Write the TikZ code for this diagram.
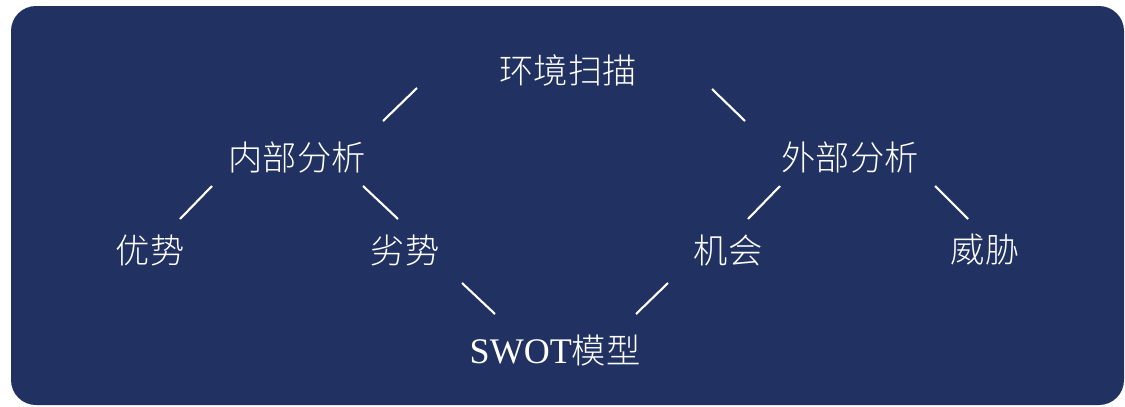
\documentclass[tikz,border=0pt]{standalone}
\usepackage{fontspec}
\setmainfont{Liberation Serif}
\newfontfamily\cjk{Noto Sans CJK SC Light}
\definecolor{navybg}{RGB}{33,50,98}
\tikzset{
  lbl/.style={text=white,font=\fontsize{19.5}{24}\selectfont\cjk,inner sep=0pt},
  link/.style={draw=white,line width=1.2pt}
}
\begin{document}
\begin{tikzpicture}[x=0.02cm,y=-0.02cm]
\useasboundingbox (0,0) rectangle (1125,406);
\fill[navybg,rounded corners=0.5cm] (11,6) rectangle (1124,405);
\node[lbl] (env) at (568,70) {环境扫描};
\node[lbl] (inner) at (297,157) {内部分析};
\node[lbl] (outer) at (850,157) {外部分析};
\node[lbl] (str) at (150,250) {优势};
\node[lbl] (weak) at (405,250) {劣势};
\node[lbl] (opp) at (728,250) {机会};
\node[lbl] (thr) at (985,250) {威胁};
\node[lbl] (swot) at (555,350) {{\fontsize{20.5}{24}\selectfont\rmfamily SWOT}模型};
% segment ends
\coordinate (a1) at (417,88);  \coordinate (a2) at (383,121);
\coordinate (b1) at (712,89);  \coordinate (b2) at (745,121);
\coordinate (c1) at (212,186); \coordinate (c2) at (180,219);
\coordinate (d1) at (363,186); \coordinate (d2) at (398,219);
\coordinate (e1) at (780,186); \coordinate (e2) at (748,219);
\coordinate (f1) at (935,186); \coordinate (f2) at (968,219);
\coordinate (g1) at (462,283); \coordinate (g2) at (495,314);
\coordinate (h1) at (668,283); \coordinate (h2) at (636,314);
\path[link]
  (a1) edge (a2)
  (b1) edge (b2)
  (c1) edge (c2)
  (d1) edge (d2)
  (e1) edge (e2)
  (f1) edge (f2)
  (g1) edge (g2)
  (h1) edge (h2)
;
\end{tikzpicture}
\end{document}
